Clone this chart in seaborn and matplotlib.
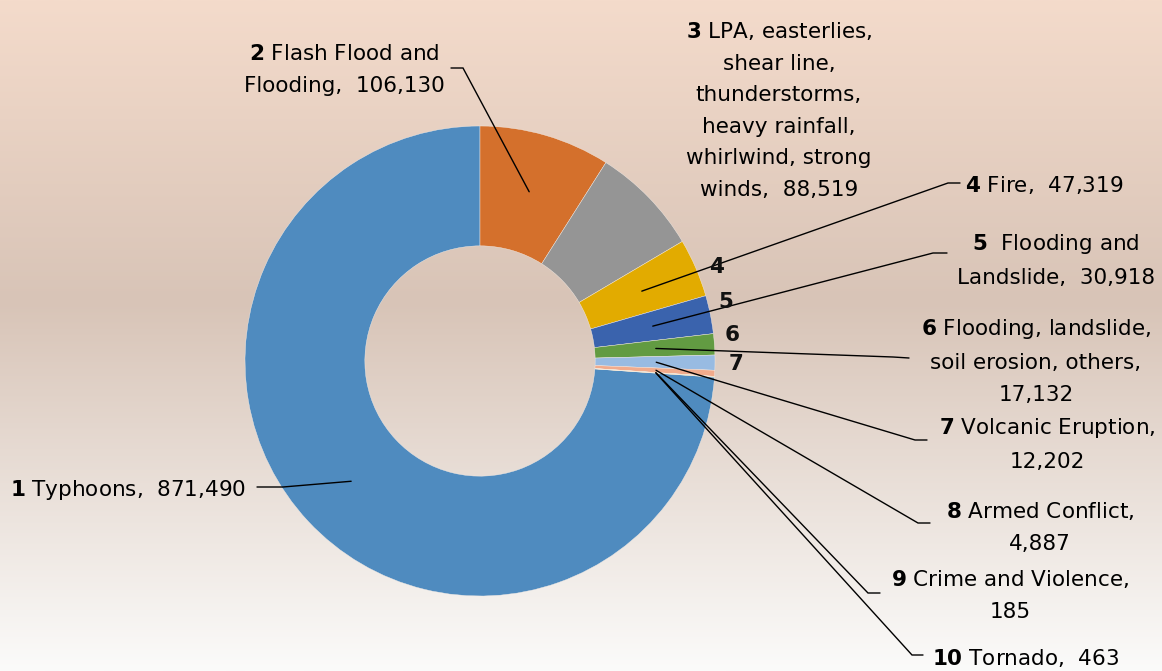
import numpy as np
import matplotlib
matplotlib.use("Agg")
import matplotlib.pyplot as plt
import seaborn as sns

# ---- data ----
numbers = [1, 2, 3, 4, 5, 6, 7, 8, 9, 10]
categories = [
    "Typhoons",
    "Flash Flood and\nFlooding",
    "LPA, easterlies,\nshear line,\nthunderstorms,\nheavy rainfall,\nwhirlwind, strong\nwinds",
    "Fire",
    " Flooding and\nLandslide",
    "Flooding, landslide,\nsoil erosion, others",
    "Volcanic Eruption",
    "Armed Conflict",
    "Crime and Violence",
    "Tornado",
]
values = [871490, 106130, 88519, 47319, 30918, 17132, 12202, 4887, 185, 463]
separators = [",  ", ",  ", ",  ", ",  ", ",  ", ",\n", ",\n", ",\n", ",\n", ",  "]
colors = ["#4F8BBF", "#D4702C", "#959595", "#E2AB00", "#3A63AD",
          "#629B42", "#98BBE2", "#F1AB8C", "#C9C9C9", "#F2CB6A"]

sns.set_theme(style="white")
plt.rcParams["font.family"] = ["DejaVu Sans"]
plt.rcParams["mathtext.fontset"] = "dejavusans"

W, H = 1162, 671
fig = plt.figure(figsize=(W / 100, H / 100), dpi=100)

# background gradient
bg = fig.add_axes([0, 0, 1, 1], zorder=0)
stops_pos = [0.0, 0.45, 1.0]
stops_col = np.array([[244, 219, 203], [216, 196, 183], [251, 251, 250]]) / 255.0
yy = np.linspace(0, 1, 400)
grad = np.stack([np.interp(yy, stops_pos, stops_col[:, c]) for c in range(3)], axis=1)
bg.imshow(grad[:, None, :], aspect="auto", extent=[0, 1, 0, 1])
bg.axis("off")

ax = fig.add_axes([0, 0, 1, 1], zorder=1)
ax.patch.set_alpha(0)

def P(px, py):
    return (px, H - py)

cx, cy = P(480, 361)
R = 235
start = 90 + 360 * values[0] / sum(values)
wedges, _ = ax.pie(values, colors=colors, startangle=start, counterclock=False,
                   radius=R, center=(cx, cy),
                   wedgeprops=dict(width=R * 0.51, edgecolor="#f4ece6", linewidth=0.3))
ax.set_xlim(0, W)
ax.set_ylim(0, H)
ax.set_aspect("equal")
ax.axis("off")

fs = 15.5
ls = 1.72
# label placement: (x, y, ha) in pixels, elbow, end
label_pos = {
    1: (10, 490, "left"),
    2: (344, 70, "center"),
    3: (779, 110, "center"),
    4: (965, 185, "left"),
    5: (1056, 260, "center"),
    6: (1036, 361, "center"),
    7: (1047, 444, "center"),
    8: (1040, 527, "center"),
    9: (1010, 595, "center"),
    10: (932, 658, "left"),
}
leaders = {
    1: ((283, 487), (257, 487)),
    2: ((463, 68), (451, 68)),
    4: ((948, 183), (960, 183)),
    5: ((933, 253), (947, 253)),
    6: ((893, 357), (909, 358)),
    7: ((915, 440), (927, 440)),
    8: ((918, 523), (930, 523)),
    9: ((868, 593), (880, 593)),
    10: ((912, 655), (923, 655)),
}

for i, (n, name, v, sep) in enumerate(zip(numbers, categories, values, separators)):
    txt = f"$\\mathbf{{{n}}}$ {name}{sep}{v:,}"
    x, y, ha = label_pos[n]
    ax.text(*P(x, y), txt, ha=ha, va="center", multialignment="center",
            fontsize=fs, linespacing=ls, color="black", zorder=5)
    if n in leaders:
        w = wedges[i]
        th = np.deg2rad((w.theta1 + w.theta2) / 2)
        r = 0.75 * R
        ax_ = cx + r * np.cos(th)
        ay_ = cy + r * np.sin(th)
        (ex, ey), (fx, fy) = leaders[n]
        ex, ey = P(ex, ey)
        fx, fy = P(fx, fy)
        ax.plot([ax_, ex, fx], [ay_, ey, fy], color="black", lw=1.0, zorder=4,
                solid_joinstyle="miter")

# small bold numbers near the thin slices
small_pos = {4: (716, 267), 5: (726, 302), 6: (732, 335), 7: (736, 364)}
for n, (x, y) in small_pos.items():
    ax.text(*P(x, y), str(n), ha="center", va="center", fontsize=15.5,
            fontweight="bold", color="#111111", zorder=5)

fig.savefig("out.png", dpi=100)
